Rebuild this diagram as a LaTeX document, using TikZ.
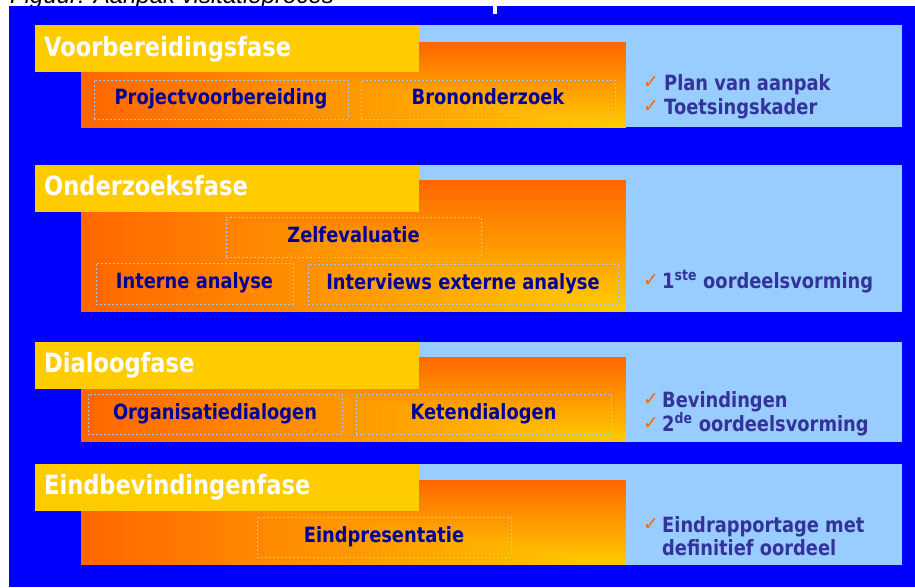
\documentclass[tikz,border=0pt]{standalone}
\usepackage{fontspec}
\setmainfont{DejaVu Sans}
\newfontfamily\tah[FakeStretch=0.85]{DejaVu Sans}
\newfontfamily\capfont{Liberation Sans}
\newfontfamily\chkfont{DejaVu Sans}
\definecolor{bgblue}{HTML}{0000FF}
\definecolor{panelblue}{HTML}{99CCFF}
\definecolor{barYellow}{HTML}{FFCC00}
\definecolor{gradOrange}{HTML}{FF6600}
\definecolor{gradYellow}{HTML}{FFCC00}
\definecolor{navyText}{HTML}{000099}
\definecolor{resText}{HTML}{333399}
\definecolor{dashCol}{HTML}{A9C6E6}
\newcommand\gradbox[4]{%
  \foreach \i in {80,79,...,1}{%
    \pgfmathsetmacro\s{\i/80}%
    \pgfmathtruncatemacro\pc{100*\s}%
    \fill[gradOrange!\pc!gradYellow] ({#3-\s*(#3-#1)},{#4-\s*(#4-#2)}) rectangle (#3,#4);
  }}
\tikzset{
  ttl/.style={font=\tah\bfseries\fontsize{26.5}{30}\selectfont, text=white, anchor=base west, inner sep=0pt},
  subbox/.style={draw=dashCol, dash pattern=on 2pt off 2pt, line width=0.8pt, text=navyText,
     font=\tah\bfseries\fontsize{21}{24}\selectfont, inner sep=0pt, text height=15.5pt, text depth=5pt},
  restxt/.style={font=\tah\bfseries\fontsize{21}{24}\selectfont, text=resText, anchor=base west, inner sep=0pt},
  chkmark/.style={font=\chkfont\fontsize{19}{19}\selectfont, text=gradOrange, anchor=base west, inner sep=0pt}
}
\begin{document}
\begin{tikzpicture}[x=1pt,y=-1pt]
\useasboundingbox (0,0) rectangle (915,587);
\begin{scope}
\clip (0,0) rectangle (915,587);
\node[font=\capfont\itshape\fontsize{24}{26}\selectfont, anchor=base west, inner sep=0pt] (caption) at (10,3.5) {Figuur: Aanpak visitatieproces};
\fill[bgblue] (9,6) rectangle (915,587);
\end{scope}
\fill[white] (493,6) rectangle (497,14);
% ---------- Phase 1
\fill[panelblue] (81,25) rectangle (902,127);
\gradbox{81}{42}{626}{127.7}
\fill[barYellow] (35,25) rectangle (419,71.7);
\node[ttl] (t1) at (44,56) {Voorbereidingsfase};
\node[subbox, minimum width=254pt, minimum height=39pt] (a1) at (221,99.5) {Projectvoorbereiding};
\node[subbox, minimum width=254pt, minimum height=39pt] (a2) at (488,99.5) {Brononderzoek};
\node[chkmark] (c1) at (643,88) {✓};
\node[restxt] (r1) at (664,90) {Plan van aanpak};
\node[chkmark] (c2) at (643,112) {✓};
\node[restxt] (r2) at (664,114) {Toetsingskader};
% ---------- Phase 2
\fill[panelblue] (81,165) rectangle (902,311.5);
\gradbox{81}{180}{626}{311.7}
\fill[barYellow] (35,165) rectangle (419,211.7);
\node[ttl] (t2) at (44,195) {Onderzoeksfase};
\node[subbox, minimum width=255pt, minimum height=40pt] (b1) at (353.5,237) {Zelfevaluatie};
\node[subbox, minimum width=197pt, minimum height=41pt] (b2) at (194.5,283.5) {Interne analyse};
\node[subbox, minimum width=310pt, minimum height=40pt] (b3) at (463,284) {Interviews externe analyse};
\node[chkmark] (c3) at (643,286) {✓};
\node[restxt] (r3) at (662,288) {1\textsuperscript{ste} oordeelsvorming};
% ---------- Phase 3
\fill[panelblue] (81,342) rectangle (902,441.7);
\gradbox{81}{357}{626}{441.7}
\fill[barYellow] (35,342) rectangle (419,388.7);
\node[ttl] (t3) at (44,372) {Dialoogfase};
\node[subbox, minimum width=254pt, minimum height=40pt] (d1) at (215,414) {Organisatiedialogen};
\node[subbox, minimum width=255pt, minimum height=40pt] (d2) at (483.5,414) {Ketendialogen};
\node[chkmark] (c4) at (643,405) {✓};
\node[restxt] (r4) at (662,407) {Bevindingen};
\node[chkmark] (c5) at (643,429) {✓};
\node[restxt] (r5) at (662,431) {2\textsuperscript{de} oordeelsvorming};
% ---------- Phase 4
\fill[panelblue] (81,464) rectangle (902,564.7);
\gradbox{81}{480}{626}{564.7}
\fill[barYellow] (35,464) rectangle (419,510.7);
\node[ttl] (t4) at (44,494) {Eindbevindingenfase};
\node[subbox, minimum width=254pt, minimum height=40pt] (e1) at (384,537) {Eindpresentatie};
\node[chkmark] (c6) at (643,530) {✓};
\node[restxt] (r6) at (662,532) {Eindrapportage met};
\node[restxt] (r7) at (662,555) {definitief oordeel};
\end{tikzpicture}
\end{document}
